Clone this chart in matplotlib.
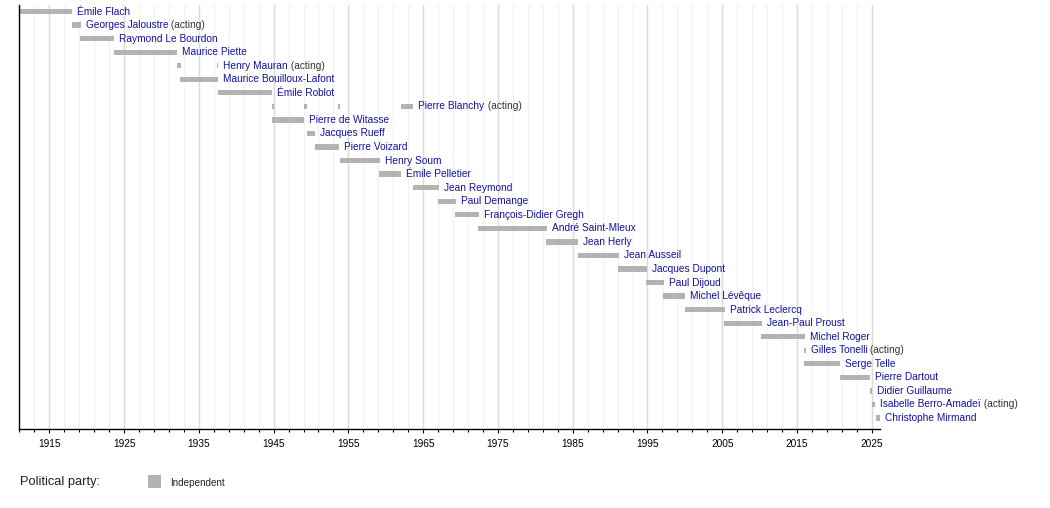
import matplotlib.pyplot as plt
from matplotlib.patches import Rectangle

plt.rcParams['font.family'] = ['Liberation Sans', 'DejaVu Sans']

# Ministers of State, one row each, top to bottom
names = [
    'Émile Flach', 'Georges Jaloustre', 'Raymond Le Bourdon', 'Maurice Piette',
    'Henry Mauran', 'Maurice Bouilloux-Lafont', 'Émile Roblot', 'Pierre Blanchy',
    'Pierre de Witasse', 'Jacques Rueff', 'Pierre Voizard', 'Henry Soum',
    'Émile Pelletier', 'Jean Reymond', 'Paul Demange', 'François-Didier Gregh',
    'André Saint-Mleux', 'Jean Herly', 'Jean Ausseil', 'Jacques Dupont',
    'Paul Dijoud', 'Michel Lévêque', 'Patrick Leclercq', 'Jean-Paul Proust',
    'Michel Roger', 'Gilles Tonelli', 'Serge Telle', 'Pierre Dartout',
    'Didier Guillaume', 'Isabelle Berro-Amadeï', 'Christophe Mirmand',
]
acting = [
    False, True, False, False, True, False, False, True,
    False, False, False, False, False, False, False, False,
    False, False, False, False, False, False, False, False,
    False, True, False, False, False, True, False,
]
terms = [
    [(1911.0, 1918.0)],
    [(1918.0, 1919.2)],
    [(1919.1, 1923.7)],
    [(1923.7, 1932.1)],
    [(1932.1, 1932.6), (1937.4, 1937.6)],
    [(1932.5, 1937.6)],
    [(1937.6, 1944.8)],
    [(1944.8, 1945.0), (1949.0, 1949.4), (1953.6, 1953.9), (1962.0, 1963.7)],
    [(1944.8, 1949.0)],
    [(1949.5, 1950.6)],
    [(1950.5, 1953.7)],
    [(1953.9, 1959.2)],
    [(1959.1, 1962.1)],
    [(1963.6, 1967.1)],
    [(1967.0, 1969.35)],
    [(1969.3, 1972.5)],
    [(1972.3, 1981.5)],
    [(1981.4, 1985.75)],
    [(1985.7, 1991.15)],
    [(1991.05, 1994.9)],
    [(1994.8, 1997.2)],
    [(1997.1, 2000.0)],
    [(2000.0, 2005.4)],
    [(2005.3, 2010.3)],
    [(2010.2, 2016.1)],
    [(2016.0, 2016.15)],
    [(2016.0, 2020.8)],
    [(2020.7, 2024.75)],
    [(2024.7, 2025.0)],
    [(2025.0, 2025.45)],
    [(2025.5, 2026.1)],
]
party = 'Independent'

year_start, year_end = 1911, 2026.1
major_years = list(range(1915, 2026, 10))
minor_years = list(range(1911, 2027, 2))

bar_color = '#b3b3b3'
name_color = '#12129e'

W, H = 1050, 508
fig = plt.figure(figsize=(W / 100, H / 100), dpi=100)
ax = fig.add_axes([19.4 / W, (H - 429) / H, (880 - 19.4) / W, (429 - 5) / H])

for x in minor_years:
    ax.axvline(x, color='#f3f3f3', lw=1, zorder=0)
for x in major_years:
    ax.axvline(x, color='#dcdcdc', lw=1, zorder=0.5)

for i, (name, spans) in enumerate(zip(names, terms)):
    for a, b in spans:
        ax.barh(i, b - a, left=a, height=0.39, color=bar_color, lw=0, zorder=2)
    end = spans[-1][1]
    t = ax.annotate(name, xy=(end, i), xytext=(3.6, 0), textcoords='offset points',
                    va='center', ha='left', fontsize=7.3, color=name_color,
                    annotation_clip=False)
    if acting[i]:
        ax.annotate(' (acting)', xy=(1, 0.5), xycoords=t, va='center', ha='left',
                    fontsize=7.3, color='#333333')

ax.set_xlim(year_start, year_end)
ax.set_ylim(30.81, -0.48)
ax.set_yticks([])
ax.set_xticks(major_years)
ax.set_xticks(minor_years, minor=True)
ax.tick_params(axis='x', which='major', length=3.2, width=0.8, pad=4, labelsize=7.3)
ax.tick_params(axis='x', which='minor', length=1.8, width=0.8)
for s in ['top', 'right']:
    ax.spines[s].set_visible(False)
for s in ['left', 'bottom']:
    ax.spines[s].set_linewidth(1)

# legend
fig.text(20 / W, (H - 482) / H, 'Political party:', fontsize=9.3, va='center',
         ha='left', color='#222222')
fig.patches.append(Rectangle((148 / W, (H - 488) / H), 13 / W, 13 / H,
                             transform=fig.transFigure, color=bar_color, lw=0))
fig.text(170 / W, (H - 483) / H, party, fontsize=7.1, va='center', ha='left',
         color='#222222')

fig.savefig('out.png', dpi=100)
